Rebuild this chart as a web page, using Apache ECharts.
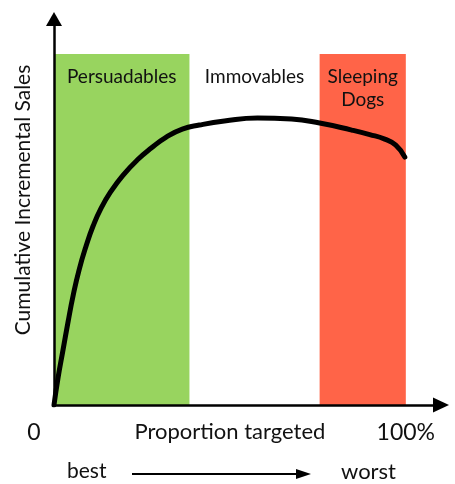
<!DOCTYPE html>
<html>
<head>
<meta charset="utf-8">
<script src="https://cdn.jsdelivr.net/npm/echarts@6/dist/echarts.min.js"></script>
<style>
  html, body { margin: 0; padding: 0; background: #fff; }
  #chart { width: 455px; height: 484px; }
</style>
</head>
<body>
<div id="chart"></div>
<script>
// curve: x = proportion targeted (%), y = cumulative incremental sales (% of band height)
const curveX = [0, 1.14, 2.56, 3.99, 5.41, 7.12, 9.12, 11.11, 13.39, 16.24, 19.66, 23.65, 27.64, 31.91, 36.47, 41.31,
  48.43, 57.83, 67.52, 75.5, 84.62, 89.74, 94.02, 97.15, 99.72]
const curveY = [0, 7.69, 15.67, 23.65, 31.05, 38.46, 45.3, 51.0, 56.13, 60.97, 65.53, 69.8, 73.22, 76.35, 78.63, 79.77,
  80.91, 81.77, 81.48, 80.34, 78.35, 77.07, 75.78, 74.07, 70.66]

// segments along the x axis
const regionNames = ['Persuadables', 'Immovables', 'Sleeping\nDogs']
const regionStart = [0, 38.5, 75.5]
const regionEnd = [38.5, 75.5, 100]
const regionColors = ['#98d45f', 'rgba(255,255,255,0)', '#ff6448']

// x axis labels
const tickValues = [0, 50, 100]
const tickLabels = ['0', 'Proportion targeted', '100%']

const scaleEnds = ['best', 'worst']

const font = 'Lato, "Open Sans", sans-serif'

const chart = echarts.init(document.getElementById('chart'))

const areas = regionNames.map((name, i) => [
  { name: name, xAxis: regionStart[i], yAxis: 0, itemStyle: { color: regionColors[i] } },
  { xAxis: regionEnd[i], yAxis: 100 }
])

chart.setOption({
  animation: false,
  textStyle: { fontFamily: font, color: '#111' },
  grid: { left: 54, right: 14, top: 19, bottom: 79, containLabel: false },
  xAxis: {
    type: 'value',
    min: 0,
    max: 110,
    z: 10,
    splitLine: { show: false },
    axisTick: { show: false },
    axisLine: {
      show: true,
      symbol: ['none', 'triangle'],
      symbolSize: [15, 16],
      lineStyle: { color: '#000', width: 2.5 }
    },
    axisLabel: {
      customValues: tickValues,
      margin: 16,
      formatter: v => {
        const i = tickValues.indexOf(v)
        if (i === 0) return '{zero|' + tickLabels[i] + '}'
        if (i === 1) return '{name|' + tickLabels[i] + '}'
        return '{end|' + tickLabels[i] + '}'
      },
      rich: {
        zero: { fontSize: 23, fontFamily: font, color: '#111', padding: [0, 40, 0, 0] },
        name: { fontSize: 22, fontFamily: font, color: '#111' },
        end: { fontSize: 23, fontFamily: font, color: '#111' }
      }
    }
  },
  yAxis: {
    type: 'value',
    min: 0,
    max: 110,
    z: 10,
    splitLine: { show: false },
    axisTick: { show: false },
    axisLabel: { show: false },
    axisLine: {
      show: true,
      symbol: ['none', 'triangle'],
      symbolSize: [16, 14],
      lineStyle: { color: '#000', width: 2.5 }
    },
    name: 'Cumulative Incremental Sales',
    nameLocation: 'middle',
    nameGap: 20,
    nameTextStyle: { fontSize: 21, fontFamily: font, color: '#111', padding: [0, 0, 0, 24] }
  },
  series: [{
    type: 'line',
    data: curveX.map((x, i) => [x, curveY[i]]),
    smooth: 0.5,
    symbol: 'none',
    z: 5,
    lineStyle: { color: '#000', width: 5, cap: 'round', join: 'round' },
    markArea: {
      silent: true,
      label: {
        show: true,
        position: 'insideTop',
        distance: 11,
        fontSize: 19,
        lineHeight: 23,
        fontFamily: font,
        color: '#111'
      },
      data: areas
    }
  }],
  graphic: [
    { type: 'text', left: 67, top: 461, style: { text: scaleEnds[0], fontSize: 21, fontFamily: font, fill: '#111' } },
    { type: 'line', shape: { x1: 132, y1: 474, x2: 300, y2: 474 }, style: { stroke: '#000', lineWidth: 2 } },
    { type: 'polygon', shape: { points: [[296, 469], [311, 474], [296, 479]] }, style: { fill: '#000' } },
    { type: 'text', left: 341, top: 461, style: { text: scaleEnds[1], fontSize: 22, fontFamily: font, fill: '#111' } }
  ]
})
</script>
</body>
</html>
